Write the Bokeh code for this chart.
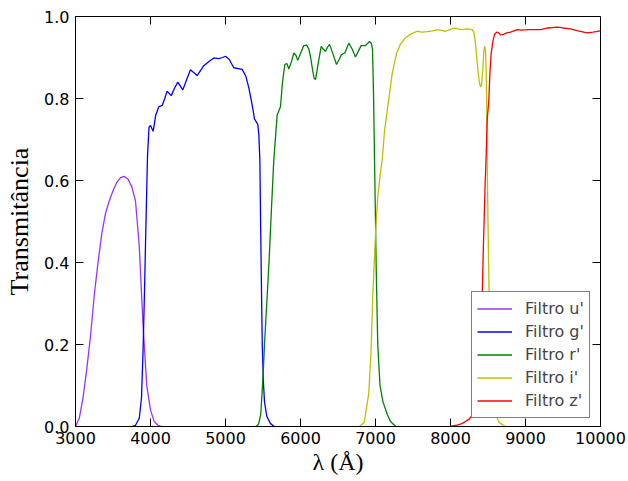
import math
from bokeh.plotting import figure
from bokeh.models import (FixedTicker, PrintfTickFormatter, Range1d, Legend, LegendItem)
from bokeh.embed import file_html
from bokeh.resources import INLINE

# ---- data ----
u_wl = [3000, 3050, 3100, 3150, 3200, 3250, 3300, 3350, 3400, 3450, 3500, 3550, 3600, 3650,
        3700, 3750, 3800, 3850, 3900, 3950, 4000, 4050, 4100, 4150]
u_tr = [0.0, 0.02, 0.07, 0.14, 0.22, 0.32, 0.40, 0.47, 0.52, 0.55, 0.575, 0.595, 0.607, 0.61,
        0.603, 0.585, 0.55, 0.44, 0.25, 0.10, 0.04, 0.012, 0.003, 0.0]

g_wl = [3750, 3800, 3850, 3880, 3900, 3920, 3940, 3960, 3980, 4000, 4036, 4070, 4111, 4156,
        4190, 4222, 4276, 4320, 4364, 4431, 4480, 4533, 4622, 4711, 4780, 4844, 4911, 4960,
        5000, 5050, 5111, 5222, 5270, 5311, 5350, 5387, 5431, 5445, 5458, 5470, 5480, 5490,
        5505, 5520, 5550, 5600, 5650]
g_tr = [0.0, 0.003, 0.02, 0.07, 0.18, 0.33, 0.50, 0.66, 0.73, 0.734, 0.72, 0.76, 0.78, 0.783,
        0.80, 0.818, 0.807, 0.825, 0.84, 0.821, 0.845, 0.87, 0.856, 0.88, 0.89, 0.899, 0.897,
        0.90, 0.903, 0.895, 0.875, 0.871, 0.855, 0.826, 0.79, 0.75, 0.737, 0.71, 0.65, 0.47,
        0.33, 0.20, 0.11, 0.06, 0.025, 0.007, 0.0]

r_wl = [5400, 5440, 5470, 5500, 5520, 5550, 5580, 5610, 5644, 5689, 5733, 5760, 5791, 5820,
        5844, 5880, 5911, 5940, 5964, 6000, 6044, 6080, 6111, 6135, 6156, 6180, 6200, 6240,
        6276, 6305, 6333, 6360, 6387, 6430, 6480, 6515, 6547, 6591, 6644, 6690, 6733, 6770,
        6809, 6867, 6920, 6945, 6960, 6975, 6987, 7000, 7010, 7030, 7060, 7100, 7156, 7200, 7270]
r_tr = [0.0, 0.005, 0.03, 0.12, 0.20, 0.30, 0.40, 0.52, 0.65, 0.76, 0.78, 0.84, 0.883, 0.885,
        0.872, 0.89, 0.911, 0.905, 0.893, 0.91, 0.929, 0.93, 0.921, 0.90, 0.876, 0.85, 0.846,
        0.89, 0.927, 0.92, 0.915, 0.925, 0.932, 0.91, 0.883, 0.895, 0.907, 0.911, 0.935, 0.92,
        0.901, 0.915, 0.929, 0.929, 0.939, 0.935, 0.92, 0.80, 0.65, 0.50, 0.38, 0.20, 0.10,
        0.06, 0.03, 0.012, 0.0]

i_wl = [6780, 6850, 6910, 6940, 6964, 7000, 7030, 7060, 7089, 7120, 7156, 7200, 7222, 7280,
        7333, 7400, 7467, 7556, 7620, 7689, 7760, 7822, 7880, 7933, 7990, 8044, 8100, 8150,
        8220, 8289, 8311, 8330, 8345, 8360, 8380, 8400, 8415, 8430, 8445, 8455, 8467, 8475,
        8482, 8489, 8500, 8510, 8520, 8540, 8570, 8600, 8650, 8730]
i_tr = [0.0, 0.01, 0.08, 0.18, 0.32, 0.47, 0.56, 0.61, 0.65, 0.72, 0.77, 0.83, 0.86, 0.91,
        0.933, 0.948, 0.957, 0.964, 0.962, 0.963, 0.965, 0.968, 0.966, 0.964, 0.968, 0.972,
        0.97, 0.968, 0.97, 0.968, 0.962, 0.94, 0.91, 0.88, 0.845, 0.828, 0.835, 0.87, 0.915,
        0.928, 0.917, 0.87, 0.795, 0.65, 0.50, 0.38, 0.25, 0.12, 0.06, 0.03, 0.01, 0.0]

z_wl = [8000, 8050, 8100, 8150, 8200, 8250, 8300, 8340, 8370, 8400, 8420, 8440, 8460, 8475,
        8490, 8511, 8525, 8542, 8565, 8587, 8615, 8644, 8670, 8698, 8750, 8800, 8889, 8950,
        9050, 9200, 9300, 9422, 9500, 9600, 9700, 9822, 9900, 10000]
z_tr = [0.0, 0.002, 0.004, 0.007, 0.012, 0.018, 0.03, 0.06, 0.12, 0.20, 0.30, 0.45, 0.58,
        0.66, 0.75, 0.795, 0.86, 0.909, 0.94, 0.956, 0.962, 0.96, 0.955, 0.956, 0.96, 0.962,
        0.968, 0.967, 0.968, 0.968, 0.972, 0.974, 0.972, 0.97, 0.965, 0.96, 0.962, 0.965]

labels = ["Filtro u'", "Filtro g'", "Filtro r'", "Filtro i'", "Filtro z'"]
colors = ["#9933ff", "#0000ff", "#008000", "#bfbf00", "#ff0000"]
x_ticks = [3000, 4000, 5000, 6000, 7000, 8000, 9000, 10000]
y_ticks = [0.0, 0.2, 0.4, 0.6, 0.8, 1.0]
x_min, x_max = 3000, 10000
y_min, y_max = 0.0, 1.0

p = figure(width=628, height=481, x_range=Range1d(x_min, x_max), y_range=Range1d(y_min, y_max),
           output_backend="svg", toolbar_location=None,
           min_border_left=75, min_border_right=28, min_border_top=16, min_border_bottom=55)
p.grid.visible = False
p.outline_line_color = "black"
p.outline_line_width = 1
p.background_fill_color = "white"
p.border_fill_color = "white"

series = [(u_wl, u_tr), (g_wl, g_tr), (r_wl, r_tr), (i_wl, i_tr), (z_wl, z_tr)]
items = []
for (wl, tr), lab, col in zip(series, labels, colors):
    r = p.line(wl, tr, line_color=col, line_width=1.3)
    items.append(LegendItem(label=lab, renderers=[r]))

# inward ticks on the top and right frame edges (matplotlib classic look)
p.ray(x=x_ticks, y=[y_max] * len(x_ticks), length=8, length_units="screen",
      angle=-math.pi / 2, line_color="black", line_width=1)
p.ray(x=[x_max] * len(y_ticks), y=y_ticks, length=8, length_units="screen",
      angle=math.pi, line_color="black", line_width=1)

tick_font = "DejaVu Sans"
xa = p.xaxis[0]
ya = p.yaxis[0]
xa.ticker = FixedTicker(ticks=x_ticks)
ya.ticker = FixedTicker(ticks=y_ticks)
xa.formatter = PrintfTickFormatter(format="%d")
ya.formatter = PrintfTickFormatter(format="%.1f")
for ax in (xa, ya):
    ax.major_tick_in = 8
    ax.major_tick_out = 0
    ax.minor_tick_line_color = None
    ax.axis_line_color = "black"
    ax.major_tick_line_color = "black"
    ax.major_label_text_font = tick_font
    ax.major_label_text_font_size = "16px"
    ax.major_label_text_color = "black"
    ax.axis_label_text_font = "Liberation Serif"
    ax.axis_label_text_font_style = "normal"
    ax.axis_label_text_color = "black"
xa.axis_label_text_font_size = "24px"
ya.axis_label_text_font_size = "26px"
xa.major_label_standoff = 5
ya.major_label_standoff = 6
xa.axis_label = "λ (Å)"
ya.axis_label = "Transmitância"
xa.axis_label_standoff = 2
ya.axis_label_standoff = 7

legend = Legend(items=items, location=(396, 8))
legend.border_line_color = "black"
legend.border_line_width = 1
legend.background_fill_color = "white"
legend.background_fill_alpha = 1
legend.label_text_font = "DejaVu Sans"
legend.label_text_font_size = "16px"
legend.glyph_width = 35
legend.glyph_height = 23
legend.label_height = 23
legend.spacing = 0
legend.padding = 5
legend.margin = 0
legend.label_standoff = 13
p.add_layout(legend)

open("out.html", "w").write(file_html(p, INLINE))
